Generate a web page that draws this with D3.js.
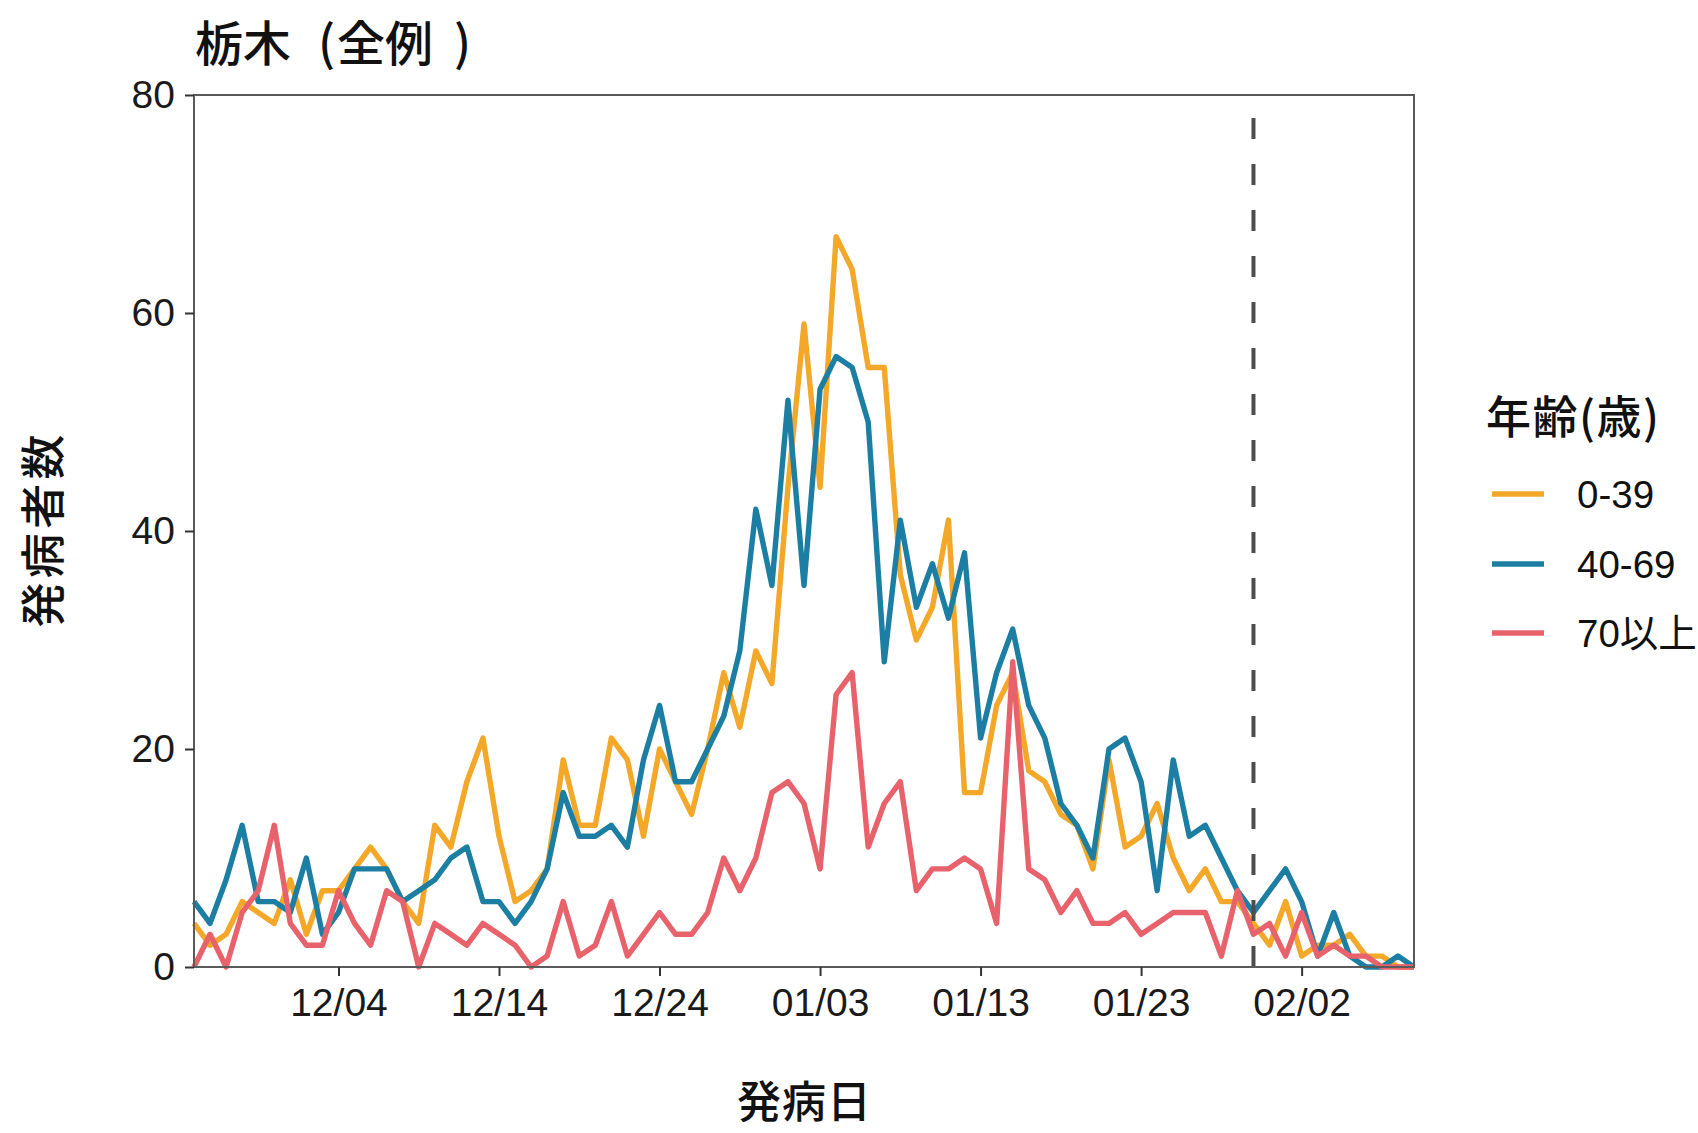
<!DOCTYPE html>
<html><head><meta charset="utf-8">
<script src="https://cdn.jsdelivr.net/npm/d3@7"></script>
<style>body{margin:0;background:#fff}</style>
</head><body>
<svg id="c" width="1698" height="1133"></svg>
<script>
// ---- data ----
const startDate = "2020-11-25";
const endDate = "2021-02-09";
const seriesNames = ["0-39", "40-69", "70以上"];
const seriesColors = ["#F3A82A", "#1C7EA3", "#E8626C"];
const age0_39 = [4,2,3,6,5,4,8,3,7,7,9,11,9,6,4,13,11,17,21,12,6,7,9,19,13,13,21,19,12,20,
  17,14,20,27,22,29,26,44,59,44,67,64,55,55,36,30,33,41,16,16,24,27,18,17,14,13,9,19,11,12,
  15,10,7,9,6,6,4,2,6,1,2,2,3,1,1,0,0];
const age40_69 = [6,4,8,13,6,6,5,10,3,5,9,9,9,6,7,8,10,11,6,6,4,6,9,16,12,12,13,11,19,24,
  17,17,20,23,29,42,35,52,35,53,56,55,50,28,41,33,37,32,38,21,27,31,24,21,15,13,10,20,21,17,
  7,19,12,13,10,7,5,7,9,6,1,5,1,0,0,1,0];
const age70plus = [0,3,0,5,7,13,4,2,2,7,4,2,7,6,0,4,3,2,4,3,2,0,1,6,1,2,6,1,3,5,
  3,3,5,10,7,10,16,17,15,9,25,27,11,15,17,7,9,9,10,9,4,28,9,8,5,7,4,4,5,3,
  4,5,5,5,1,7,3,4,1,5,1,2,1,1,0,0,0];
const yTickValues = [0, 20, 40, 60, 80];
const xTickDates = ["2020-12-04","2020-12-14","2020-12-24","2021-01-03","2021-01-13","2021-01-23","2021-02-02"];
const cutoffDate = "2021-01-30";
const titleParts = ["栃木", "(", "全例", ")"];
const yTitle = "発病者数";
const xTitle = "発病日";
const legendTitle = "年齢(歳)";

// ---- layout ----
const W = 1698, H = 1133;
const P = {left: 194, right: 1414, top: 95, bottom: 967};
const latin = "'Liberation Sans', Arial, 'Noto Sans CJK JP', sans-serif";
const cjk = "'Noto Sans CJK JP', 'Liberation Sans', sans-serif";

const parse = d3.utcParse("%Y-%m-%d");
const dates = d3.utcDay.range(parse(startDate), d3.utcDay.offset(parse(endDate), 1));
const seriesData = [age0_39, age40_69, age70plus];

const x = d3.scaleUtc().domain([parse(startDate), parse(endDate)]).range([P.left, P.right]);
const y = d3.scaleLinear().domain([0, 80]).range([P.bottom, P.top]);

const svg = d3.select("#c");
svg.append("rect").attr("width", W).attr("height", H).attr("fill", "#fff");

// lines
const line = d3.line().x((d, i) => x(dates[i])).y(d => y(d));
const gLines = svg.append("g");
seriesData.forEach((s, k) => {
  gLines.append("path").datum(s).attr("d", line)
    .attr("fill", "none").attr("stroke", seriesColors[k])
    .attr("stroke-width", 5.4).attr("stroke-linejoin", "round").attr("stroke-linecap", "butt");
});

// cutoff dashed line
svg.append("line")
  .attr("x1", x(parse(cutoffDate))).attr("x2", x(parse(cutoffDate)))
  .attr("y1", P.bottom).attr("y2", P.top + 10)
  .attr("stroke", "#4d4d4d").attr("stroke-width", 4)
  .attr("stroke-dasharray", "21,25");

// panel border
svg.append("rect").attr("x", P.left).attr("y", P.top)
  .attr("width", P.right - P.left).attr("height", P.bottom - P.top)
  .attr("fill", "none").attr("stroke", "#5a5a5a").attr("stroke-width", 2);

// axes
const yAxis = d3.axisLeft(y).tickValues(yTickValues).tickSize(9).tickPadding(10);
const gy = svg.append("g").attr("transform", `translate(${P.left},0)`).call(yAxis);
const xAxis = d3.axisBottom(x).tickValues(xTickDates.map(parse))
  .tickFormat(d3.utcFormat("%m/%d")).tickSize(9).tickPadding(12);
const gx = svg.append("g").attr("transform", `translate(0,${P.bottom})`).call(xAxis);
[gx, gy].forEach(g => {
  g.select(".domain").remove();
  g.selectAll(".tick line").attr("stroke", "#333").attr("stroke-width", 2);
  g.selectAll(".tick text").attr("fill", "#1a1a1a")
    .style("font-family", latin).style("font-size", "39px");
});

// titles
const tt = svg.append("text").attr("y", 61)
  .style("font-family", cjk).style("font-size", "48px").style("font-weight", 500).attr("fill", "#111");
const titleX = [195, 318, 337, 454];
titleParts.forEach((t, i) => tt.append("tspan").attr("x", titleX[i]).text(t));

svg.append("text").attr("transform", `translate(60,${(P.top + P.bottom) / 2}) rotate(-90)`)
  .attr("text-anchor", "middle").text(yTitle)
  .attr("textLength", 193).attr("lengthAdjust", "spacing")
  .style("font-family", cjk).style("font-size", "45px").style("font-weight", 500).attr("fill", "#111");
svg.append("text").attr("x", (P.left + P.right) / 2).attr("y", 1118)
  .attr("text-anchor", "middle").text(xTitle)
  .attr("textLength", 134).attr("lengthAdjust", "spacing")
  .style("font-family", cjk).style("font-size", "44px").style("font-weight", 500).attr("fill", "#111");

// legend
const lg = svg.append("g");
lg.append("text").attr("x", 1486).attr("y", 434).text(legendTitle)
  .attr("textLength", 173).attr("lengthAdjust", "spacing")
  .style("font-family", cjk).style("font-size", "45px").style("font-weight", 500).attr("fill", "#111");
const keyY = [494, 564, 633];
seriesNames.forEach((name, k) => {
  lg.append("line").attr("x1", 1492).attr("x2", 1544).attr("y1", keyY[k]).attr("y2", keyY[k])
    .attr("stroke", seriesColors[k]).attr("stroke-width", 5.5);
  lg.append("text").attr("x", 1577).attr("y", keyY[k]).attr("dy", "0.36em").text(name)
    .style("font-family", latin).style("font-size", "38.5px").attr("fill", "#111");
});
</script>
</body></html>
